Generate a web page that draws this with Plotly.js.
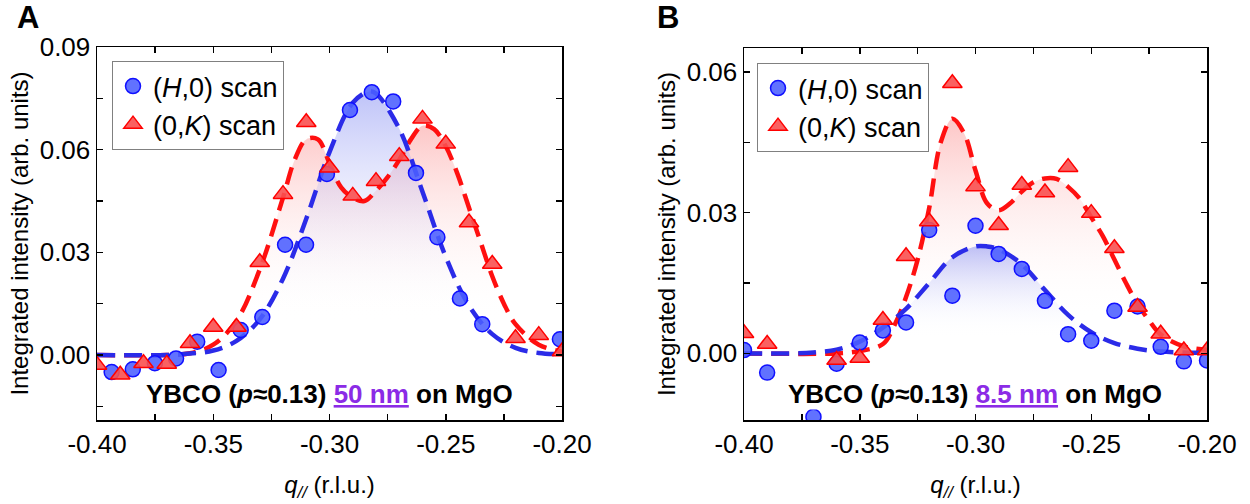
<!DOCTYPE html>
<html><head><meta charset="utf-8">
<script src="https://cdn.plot.ly/plotly-3.0.1.min.js"></script>
<style>html,body{margin:0;padding:0;background:#fff}#chart{width:1250px;height:504px}</style>
</head><body><div id="chart"></div>
<script>
// ---------- Panel A (50 nm) ----------
const qA_H = [-0.3937,-0.3846,-0.3751,-0.3660,-0.3569,-0.3477,-0.3382,-0.3289,-0.3191,-0.3101,-0.3011,-0.2912,-0.2818,-0.2726,-0.2628,-0.2536,-0.2439,-0.2343,-0.2009];
const iA_H = [-0.0050,-0.0042,-0.0024,-0.0010,0.0039,-0.0044,0.0073,0.0111,0.0322,0.0322,0.0529,0.0716,0.0768,0.0741,0.0532,0.0344,0.0165,0.0090,0.0046];
const qA_K = [-0.40,-0.39,-0.38,-0.37,-0.36,-0.35,-0.34,-0.33,-0.32,-0.31,-0.30,-0.29,-0.28,-0.27,-0.26,-0.25,-0.24,-0.23,-0.22,-0.21,-0.20];
const iA_K = [-0.0029,-0.0058,-0.0024,-0.0026,0.0034,0.0082,0.0082,0.0271,0.0470,0.0680,0.0547,0.0465,0.0508,0.0581,0.0690,0.0617,0.0387,0.0266,0.0049,0.0058,0.0010];
// fit curves
const qfA_H = [-0.40,-0.37,-0.36,-0.35,-0.34,-0.33,-0.32,-0.31,-0.30,-0.29,-0.283,-0.28,-0.27,-0.26,-0.25,-0.24,-0.23,-0.22,-0.21,-0.20];
const ifA_H = [0,0,0.0004,0.0013,0.0041,0.0104,0.0223,0.0398,0.0593,0.0737,0.0770,0.0764,0.0661,0.0477,0.0287,0.0144,0.0061,0.0021,0.0006,0.0002];
const qfA_K = [-0.40,-0.37,-0.36,-0.35,-0.34,-0.33,-0.32,-0.315,-0.31,-0.305,-0.30,-0.295,-0.29,-0.285,-0.28,-0.275,-0.27,-0.265,-0.26,-0.255,-0.25,-0.245,-0.24,-0.235,-0.23,-0.225,-0.22,-0.21,-0.20];
const ifA_K = [0,0,0.0005,0.003,0.010,0.025,0.046,0.057,0.063,0.063,0.056,0.049,0.046,0.045,0.048,0.052,0.057,0.063,0.067,0.066,0.061,0.053,0.043,0.033,0.023,0.015,0.009,0.003,0.001];

// ---------- Panel B (8.5 nm) ----------
const qB_H = [-0.40,-0.39,-0.37,-0.36,-0.35,-0.34,-0.33,-0.32,-0.31,-0.30,-0.29,-0.28,-0.27,-0.26,-0.25,-0.24,-0.23,-0.22,-0.21,-0.20];
const iB_H = [0.0007,-0.0041,-0.0135,-0.0022,0.0023,0.0049,0.0066,0.0263,0.0123,0.0272,0.0212,0.0180,0.0112,0.0041,0.0027,0.0091,0.0100,0.0014,-0.0017,-0.0015];
const qB_K = [-0.40,-0.39,-0.36,-0.35,-0.34,-0.33,-0.32,-0.31,-0.30,-0.29,-0.28,-0.27,-0.26,-0.25,-0.24,-0.23,-0.22,-0.21,-0.20];
const iB_K = [0.0043,0.0020,-0.0014,-0.0010,0.0071,0.0207,0.0281,0.0576,0.0356,0.0273,0.0359,0.0343,0.0397,0.0299,0.0224,0.0099,0.0042,0.0006,0.0006];
const qfB_H = [-0.40,-0.38,-0.37,-0.36,-0.35,-0.34,-0.33,-0.32,-0.31,-0.30,-0.295,-0.29,-0.28,-0.27,-0.26,-0.25,-0.24,-0.23,-0.22,-0.20];
const ifB_H = [0,0,0.0002,0.0008,0.0025,0.0055,0.0095,0.0150,0.0205,0.0228,0.0228,0.0222,0.0190,0.0135,0.0082,0.0045,0.0022,0.0010,0.0004,0.0001];
const qfB_K = [-0.40,-0.36,-0.35,-0.34,-0.335,-0.33,-0.325,-0.32,-0.315,-0.31,-0.305,-0.30,-0.295,-0.29,-0.285,-0.28,-0.275,-0.27,-0.265,-0.26,-0.255,-0.25,-0.245,-0.24,-0.235,-0.23,-0.225,-0.22,-0.21,-0.20];
const ifB_K = [0,0,0.0005,0.002,0.006,0.012,0.020,0.031,0.045,0.050,0.047,0.039,0.032,0.0305,0.032,0.0345,0.0365,0.0373,0.0372,0.0355,0.033,0.029,0.025,0.020,0.015,0.0105,0.007,0.004,0.0015,0.0008];

const xTickVals = [-0.40,-0.35,-0.30,-0.25,-0.20];
const xTickText = ['-0.40','-0.35','-0.30','-0.25','-0.20'];
const yTickValsA = [0,0.03,0.06,0.09];
const yTickTextA = ['0.00','0.03','0.06','0.09'];
const yTickValsB = [0,0.03,0.06];
const yTickTextB = ['0.00','0.03','0.06'];
const legendNames = ['(<i>H</i>,0) scan','(0,<i>K</i>) scan'];
const notes = ['50 nm','8.5 nm'];

const FONT = 'Arial, "Liberation Sans", sans-serif';
const BLUE_LINE = '#2b2be8', RED_LINE = '#ff1010';
const BLUE_FILL = 'rgba(110,120,240,0.45)', RED_FILL = 'rgba(250,120,120,0.42)';

function fillTrace(x, y, col, xa, ya){
  return {x:x, y:y, xaxis:xa, yaxis:ya, type:'scatter', mode:'lines', line:{width:0, shape:'spline'},
    fill:'tozeroy', fillgradient:{type:'vertical', colorscale:[[0,'rgba(255,255,255,0)'],[0.15,'rgba(255,255,255,0)'],[1,col]]},
    showlegend:false, hoverinfo:'skip'};
}
function lineTrace(x, y, col, xa, ya){
  return {x:x, y:y, xaxis:xa, yaxis:ya, type:'scatter', mode:'lines',
    line:{color:col, width:4.5, dash:'18px,9px', shape:'spline'}, showlegend:false, hoverinfo:'skip'};
}
function markerTrace(x, y, isH, xa, ya, lg, show){
  return {x:x, y:y, xaxis:xa, yaxis:ya, type:'scatter', mode:'markers', name: isH?legendNames[0]:legendNames[1],
    legend: lg, showlegend: show,
    marker: isH ? {symbol:'circle', size:15, color:'rgba(75,95,255,0.88)', line:{color:'#1010ff', width:1.5}}
                : {symbol:'triangle-up', size:17, color:'rgba(250,80,80,0.9)', line:{color:'#ff0000', width:1.5}}};
}

const data = [
  fillTrace(qfA_K, ifA_K, RED_FILL, 'x', 'y'),
  fillTrace(qfA_H, ifA_H, BLUE_FILL, 'x', 'y'),
  lineTrace(qfA_K, ifA_K, RED_LINE, 'x', 'y'),
  lineTrace(qfA_H, ifA_H, BLUE_LINE, 'x', 'y'),
  markerTrace(qA_H, iA_H, true, 'x', 'y', 'legend', true),
  markerTrace(qA_K, iA_K, false, 'x', 'y', 'legend', true),
  fillTrace(qfB_K, ifB_K, RED_FILL, 'x2', 'y2'),
  fillTrace(qfB_H, ifB_H, BLUE_FILL, 'x2', 'y2'),
  lineTrace(qfB_K, ifB_K, RED_LINE, 'x2', 'y2'),
  lineTrace(qfB_H, ifB_H, BLUE_LINE, 'x2', 'y2'),
  markerTrace(qB_H, iB_H, true, 'x2', 'y2', 'legend2', true),
  markerTrace(qB_K, iB_K, false, 'x2', 'y2', 'legend2', true)
];

function xAxis(domain, anchor){
  return {domain:domain, anchor:anchor, range:[-0.4,-0.2], tickmode:'array', tickvals:xTickVals, ticktext:xTickText,
    showline:true, linecolor:'#000', linewidth:1.5, mirror:'ticks', ticks:'inside', ticklen:6, tickwidth:1.5, tickcolor:'#000',
    minor:{ticks:'inside', ticklen:6, tickwidth:1.5, tickcolor:'#000', dtick:0.025, tick0:-0.4},
    showgrid:false, zeroline:false, tickfont:{family:FONT, size:26, color:'#000'},
    title:{text:'<i>q</i><sub><i>//</i></sub> (r.l.u.)', font:{family:FONT, size:24, color:'#000'}, standoff:18}};
}
function yAxis(domain, anchor, range, tv, tt){
  return {domain:domain, anchor:anchor, range:range, tickmode:'array', tickvals:tv, ticktext:tt,
    showline:true, linecolor:'#000', linewidth:1.5, mirror:'ticks', ticks:'inside', ticklen:6, tickwidth:1.5, tickcolor:'#000',
    minor:{ticks:'inside', ticklen:6, tickwidth:1.5, tickcolor:'#000', dtick:0.015, tick0:0},
    showgrid:false, zeroline:false, tickfont:{family:FONT, size:26, color:'#000'},
    title:{text:'Integrated intensity (arb. units)', font:{family:FONT, size:24, color:'#000'}, standoff:4}};
}
function legendBox(x, y){
  return {x:x, y:y, xanchor:'left', yanchor:'top', bgcolor:'#fff', bordercolor:'#808080', borderwidth:1,
    font:{family:FONT, size:27, color:'#000'}, itemwidth:30, tracegroupgap:0};
}
function note(xref, idx){
  return {xref:xref+' domain', yref:'paper', x:0.5, y:1-394/504, xanchor:'center', yanchor:'middle', showarrow:false,
    bgcolor:'#fff', borderpad:0,
    text:'<b>YBCO (<i>p</i>≈0.13) <span style="color:#8b2be6;text-decoration:underline">'+notes[idx]+'</span> on MgO</b>',
    font:{family:FONT, size:26, color:'#000'}};
}

const layout = {
  width:1250, height:504, margin:{l:0,r:0,t:0,b:0}, paper_bgcolor:'#fff', plot_bgcolor:'#fff', showlegend:true,
  xaxis: xAxis([97/1250, 562/1250], 'y'),
  yaxis: yAxis([1-420/504, 1-47/504], 'x', [-0.019, 0.09], yTickValsA, yTickTextA),
  xaxis2: xAxis([744/1250, 1207/1250], 'y2'),
  yaxis2: yAxis([1-420/504, 1-48/504], 'x2', [-0.0142, 0.0651], yTickValsB, yTickTextB),
  legend: legendBox(112/1250, 1-61/504),
  legend2: legendBox(757/1250, 1-63/504),
  annotations:[
    note('x', 0), note('x2', 1),
    {xref:'paper', yref:'paper', x:28/1250, y:1-18/504, xanchor:'center', yanchor:'middle', showarrow:false,
      text:'<b>A</b>', font:{family:FONT, size:31, color:'#000'}},
    {xref:'paper', yref:'paper', x:668/1250, y:1-18/504, xanchor:'center', yanchor:'middle', showarrow:false,
      text:'<b>B</b>', font:{family:FONT, size:31, color:'#000'}}
  ]
};
Plotly.newPlot('chart', data, layout, {staticPlot:true});
</script></body></html>
